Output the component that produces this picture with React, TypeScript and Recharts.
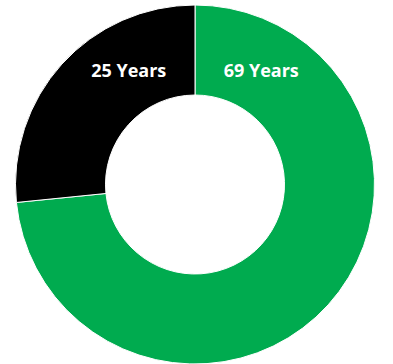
import { PieChart, Pie, Cell } from 'recharts';

const names = ['69 Years', '25 Years'];
const years = [69, 25];
const colors = ['#00AB4F', '#000000'];

const data = names.map((name, i) => ({ name, value: years[i] }));

const RADIAN = Math.PI / 180;

// labels sit 30deg away from the 12 o'clock seam, halfway across the ring
const renderLabel = (props: any) => {
  const { cx, cy, innerRadius, outerRadius, startAngle, endAngle, index } = props;
  const angle = index === 0 ? startAngle - 30 : endAngle + 30;
  const r = (innerRadius + outerRadius) / 2 - 2;
  const x = cx + r * Math.cos(-angle * RADIAN);
  const y = cy + r * Math.sin(-angle * RADIAN);
  return (
    <text
      x={x}
      y={y}
      fill="#ffffff"
      textAnchor="middle"
      dominantBaseline="central"
      style={{ fontFamily: '"Open Sans", sans-serif', fontWeight: 700, fontSize: 18 }}
    >
      {names[index]}
    </text>
  );
};

export default function App() {
  return (
    <div style={{ position: 'absolute', left: 0, top: 0, background: '#fff' }}>
      <PieChart width={393} height={364} margin={{ top: 0, right: 0, bottom: 0, left: 0 }}>
        <Pie
          data={data}
          dataKey="value"
          cx={195}
          cy={184.5}
          innerRadius={89.5}
          outerRadius={179.5}
          startAngle={90}
          endAngle={-270}
          stroke="#ffffff"
          strokeWidth={1}
          label={renderLabel}
          labelLine={false}
          isAnimationActive={false}
        >
          {data.map((d, i) => (
            <Cell key={d.name} fill={colors[i]} />
          ))}
        </Pie>
      </PieChart>
    </div>
  );
}
